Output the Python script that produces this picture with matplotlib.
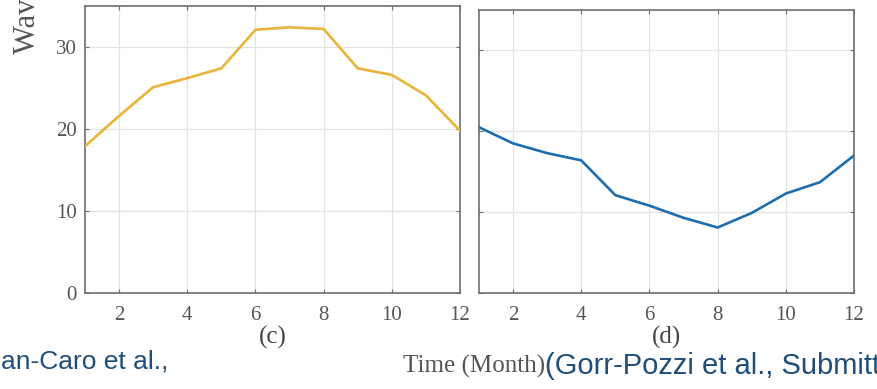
import matplotlib
matplotlib.use("Agg")
import matplotlib.pyplot as plt

months = list(range(1, 13))
series_c = [17.9, 21.6, 25.1, 26.2, 27.4, 32.1, 32.4, 32.2, 27.4, 26.6, 24.1, 19.8]
series_d = [20.5, 18.5, 17.3, 16.4, 12.1, 10.8, 9.3, 8.1, 9.9, 12.3, 13.7, 17.0]
xticks = [2, 4, 6, 8, 10, 12]
yticks = [0, 10, 20, 30]
panel_labels = ["(c)", "(d)"]

W, H = 877, 389
fig = plt.figure(figsize=(W / 100, H / 100), dpi=100)

serif = ["Liberation Serif", "DejaVu Serif"]
gray_txt = "#555555"
spine_col = "#6e6e6e"

def px_axes(x0, y0, x1, y1):
    return fig.add_axes([x0 / W, 1 - y1 / H, (x1 - x0) / W, (y1 - y0) / H])

ax1 = px_axes(85, 6, 460, 293)
ax2 = px_axes(479, 10, 854, 293)

for ax, data, col, lab in [(ax1, series_c, "#EAB43A", panel_labels[0]),
                           (ax2, series_d, "#1F6DAE", panel_labels[1])]:
    ax.plot(months, data, color=col, lw=1.9, solid_joinstyle="round", zorder=3)
    ax.set_xlim(1, 12)
    ax.set_ylim(0, 35)
    ax.set_xticks(xticks)
    ax.set_yticks(yticks)
    ax.grid(True, color="#e3e3e3", lw=0.9, zorder=0)
    for s in ax.spines.values():
        s.set_color(spine_col)
        s.set_linewidth(1.2)
    ax.tick_params(direction="in", length=3, width=0.8, color=spine_col,
                   top=True, right=True, labelsize=15, labelcolor=gray_txt, pad=9)
    for t in ax.get_xticklabels() + ax.get_yticklabels():
        t.set_fontfamily(serif)
    ax.set_xlabel(lab, fontsize=18, color="#444444", family=serif, labelpad=1)

ax2.tick_params(labelleft=False)
ax1.tick_params(axis="y", pad=6)

fig.text(27 / W, 1 - 54 / H, "Wave Power (kW/m)", rotation=90, ha="center", va="bottom",
         fontsize=22, color=gray_txt, family=serif)
fig.text(474 / W, 1 - 373 / H, "Time (Month)", ha="center", va="baseline",
         fontsize=18, color=gray_txt, family=serif)

blue = "#1F4E79"
fig.text(1 / W, 1 - 368 / H, "an-Caro et al.,", ha="left", va="baseline",
         fontsize=19, color=blue, family=["Liberation Sans", "DejaVu Sans"])
fig.text(545 / W, 1 - 374 / H, "(Gorr-Pozzi et al., Submitted)", ha="left", va="baseline",
         fontsize=21, color=blue, family=["Liberation Sans", "DejaVu Sans"])

fig.savefig("out.png", dpi=100)
